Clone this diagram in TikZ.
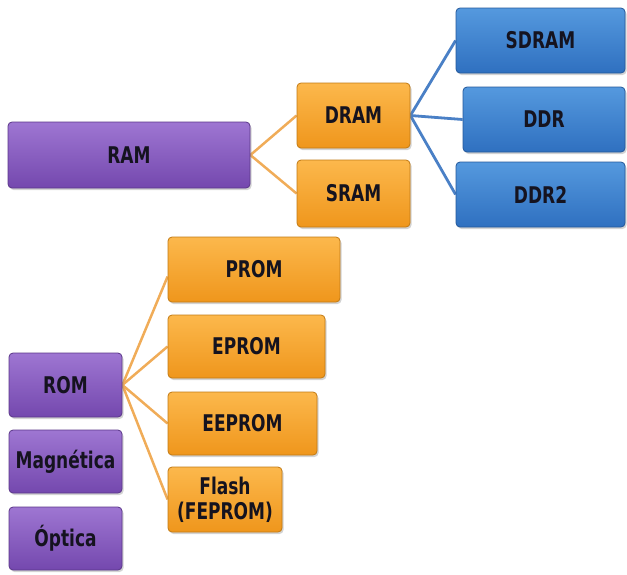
\documentclass[tikz,border=0pt]{standalone}
\usepackage{fontspec}
\newfontfamily\boxfont{DejaVu Sans Bold}[FakeStretch=0.74]
\usetikzlibrary{shadows,backgrounds}
\definecolor{purpTop}{HTML}{9E76D2}
\definecolor{purpBot}{HTML}{7448AE}
\definecolor{purpLine}{HTML}{5B3789}
\definecolor{oraTop}{HTML}{FCB84C}
\definecolor{oraBot}{HTML}{EF961C}
\definecolor{oraLine}{HTML}{C27A14}
\definecolor{bluTop}{HTML}{5599DE}
\definecolor{bluBot}{HTML}{2F70C0}
\definecolor{bluLine}{HTML}{24589A}
\definecolor{txtc}{HTML}{15131F}
\definecolor{oraConn}{HTML}{F0AC58}
\definecolor{bluConn}{HTML}{4A80C6}
\tikzset{
  boxbase/.style={draw, rounded corners=4pt, line width=0.8pt, inner sep=0pt,
    font=\boxfont\fontsize{23}{25}\selectfont, text=txtc, align=center,
    drop shadow={shadow xshift=1.5pt, shadow yshift=-2pt, opacity=0.35}},
  purpbox/.style={boxbase, draw=purpLine, top color=purpTop, bottom color=purpBot},
  orabox/.style={boxbase, draw=oraLine, top color=oraTop, bottom color=oraBot},
  blubox/.style={boxbase, draw=bluLine, top color=bluTop, bottom color=bluBot},
  oraconn/.style={draw=oraConn, line width=2.5pt},
  bluconn/.style={draw=bluConn, line width=2.8pt},
}
\begin{document}
\begin{tikzpicture}[x=1pt,y=-1pt]
\useasboundingbox (0,0) rectangle (627,574);
\node[purpbox, minimum width=242pt, minimum height=66pt] (ram) at (129,155) {RAM};
\node[orabox, minimum width=113pt, minimum height=65pt] (dram) at (353.5,115.5) {DRAM};
\node[orabox, minimum width=113pt, minimum height=67pt] (sram) at (353.5,193.5) {SRAM};
\node[blubox, minimum width=169pt, minimum height=65pt] (sdram) at (540.5,40.5) {SDRAM};
\node[blubox, minimum width=162pt, minimum height=65pt] (ddr) at (544,119.5) {DDR};
\node[blubox, minimum width=169pt, minimum height=65pt] (ddr2) at (540.5,194.5) {DDR2};
\node[orabox, minimum width=172pt, minimum height=65pt] (prom) at (254,269.5) {PROM};
\node[orabox, minimum width=157pt, minimum height=63pt] (eprom) at (246.5,346.5) {EPROM};
\node[orabox, minimum width=149pt, minimum height=63pt] (eeprom) at (242.5,423.5) {EEPROM};
\node[orabox, minimum width=114pt, minimum height=65pt] (flash) at (225,499.5) {Flash\\(FEPROM)};
\node[purpbox, minimum width=113pt, minimum height=64pt] (rom) at (65.5,385) {ROM};
\node[purpbox, minimum width=113pt, minimum height=63pt] (mag) at (65.5,461.5) {Magnética};
\node[purpbox, minimum width=113pt, minimum height=63pt] (opt) at (65.5,538.5) {Óptica};
\begin{pgfonlayer}{background}
\draw[oraconn] (ram.east) -- (dram.west);
\draw[oraconn] (ram.east) -- (sram.west);
\draw[bluconn] (dram.east) -- (sdram.west);
\draw[bluconn] (dram.east) -- (ddr.west);
\draw[bluconn] (dram.east) -- (ddr2.west);
\draw[oraconn] (rom.east) -- ([yshift=-7pt]prom.west);
\draw[oraconn] (rom.east) -- (eprom.west);
\draw[oraconn] (rom.east) -- (eeprom.west);
\draw[oraconn] (rom.east) -- (flash.west);
\end{pgfonlayer}
\end{tikzpicture}
\end{document}
